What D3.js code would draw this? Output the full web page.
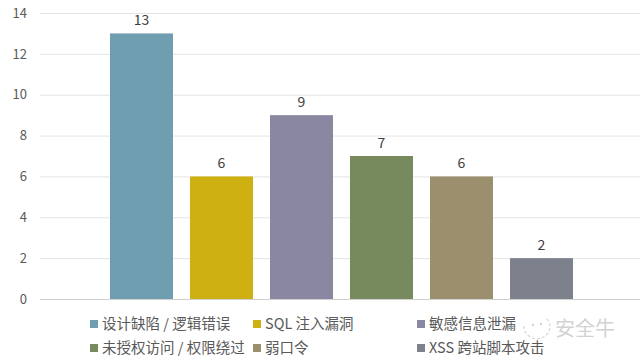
<!DOCTYPE html>
<html><head><meta charset="utf-8">
<script src="https://cdn.jsdelivr.net/npm/d3@7"></script>
<style>body{margin:0;background:#fff}svg{display:block}</style>
</head><body><svg id="c" width="640" height="364"></svg>
<script>
const series = ["设计缺陷 / 逻辑错误","SQL 注入漏洞","敏感信息泄漏","未授权访问 / 权限绕过","弱口令","XSS 跨站脚本攻击"];
const values = [13, 6, 9, 7, 6, 2];
const colors = ["#6E9EAF","#CFB012","#8A87A3","#778A5E","#9C8F6E","#7C818B"];
const yTicks = [0,2,4,6,8,10,12,14];

const svg = d3.select("#c");
const font = "'Noto Sans CJK SC','Noto Sans',sans-serif";
const y = d3.scaleLinear().domain([0,14]).range([299,13]);
const x = d3.scaleBand().domain(series).range([101.5,581.5]).paddingInner(17/80).paddingOuter(17/160);

// gridlines
svg.append("g").selectAll("line").data(yTicks).join("line")
  .attr("x1",40).attr("x2",640)
  .attr("y1",d=>y(d)+0.5).attr("y2",d=>y(d)+0.5)
  .attr("stroke",d=>d===0?"#d0d0d0":"#e4e4e4").attr("stroke-width",1);

// y axis labels
const yAxis = d3.axisLeft(y).tickValues(yTicks).tickSize(0).tickPadding(0);
const ga = svg.append("g").attr("transform","translate(27,0)").call(yAxis);
ga.select(".domain").remove();
ga.selectAll("text").attr("fill","#595959").style("font-family",font).style("font-size","13px");

// bars
svg.append("g").selectAll("rect").data(series).join("rect")
  .attr("x",d=>x(d)).attr("width",x.bandwidth())
  .attr("y",(d,i)=>y(values[i])).attr("height",(d,i)=>y(0)-y(values[i]))
  .attr("fill",(d,i)=>colors[i]);

// value labels
svg.append("g").selectAll("text").data(series).join("text")
  .attr("x",d=>x(d)+x.bandwidth()/2).attr("y",(d,i)=>y(values[i])-8)
  .attr("text-anchor","middle").attr("fill","#404040")
  .style("font-family",font).style("font-size","14px")
  .text((d,i)=>values[i]);

// legend
const legPos = [[90,324],[253,324],[417,324],[90,348],[253,348],[417,348]];
const lg = svg.append("g").selectAll("g").data(series).join("g")
  .attr("transform",(d,i)=>`translate(${legPos[i][0]},${legPos[i][1]})`);
lg.append("rect").attr("x",0).attr("y",-4).attr("width",8).attr("height",8).attr("fill",(d,i)=>colors[i]);
lg.append("text").attr("x",12).attr("y",0).attr("dy","0.35em")
  .attr("fill","#595959").style("font-family",font).style("font-size","14.5px").text(d=>d);

// watermark
const wm = svg.append("g").attr("opacity",0.6);
wm.append("path").attr("d","M524,326 a13,12 0 1,0 22,-8").attr("fill","none").attr("stroke","#bbb").attr("stroke-width",1.2).attr("stroke-dasharray","3,2");
wm.append("circle").attr("cx",533).attr("cy",325).attr("r",1.2).attr("fill","#bbb");
wm.append("circle").attr("cx",541).attr("cy",324).attr("r",1.2).attr("fill","#bbb");
wm.append("text").attr("x",555).attr("y",329).attr("dy","0.35em").attr("fill","#b5b5b5")
  .style("font-family",font).style("font-size","20px").text("安全牛");
</script></body></html>
